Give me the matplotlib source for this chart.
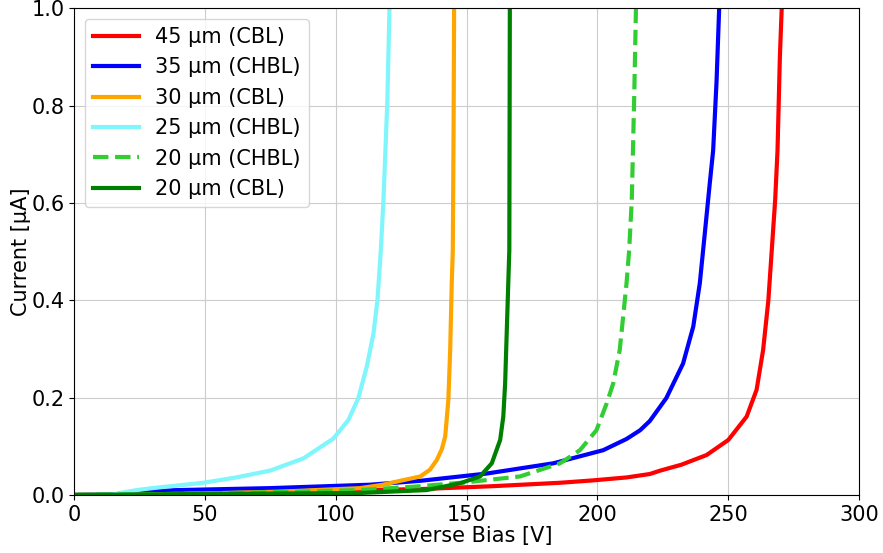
import matplotlib

matplotlib.use("Agg")
import matplotlib.pyplot as plt

# I-V breakdown curves, reverse bias [V] vs leakage current [uA]
V_45_CBL = [0, 20, 50, 100, 132.3, 160, 185.7, 198.5, 211.2, 220, 224, 232, 241.7, 250, 257,
            260.8, 263.3, 265.3, 266.6, 267.9, 268.8, 269.7, 270.4]
I_45_CBL = [0, 0.001, 0.004, 0.009, 0.012, 0.018, 0.025, 0.030, 0.036, 0.043, 0.050, 0.062,
            0.082, 0.113, 0.161, 0.216, 0.298, 0.40, 0.503, 0.606, 0.708, 0.90, 1.0]

V_35_CHBL = [0, 15, 24, 40, 75, 113, 132.3, 157.7, 183.1, 202.2, 211.1, 216.3, 220, 226.3,
             232.7, 236.6, 239.1, 241, 242.9, 244.2, 245.5, 246.5]
I_35_CHBL = [0, 0.001, 0.007, 0.010, 0.014, 0.021, 0.029, 0.044, 0.065, 0.092, 0.115, 0.133,
             0.152, 0.199, 0.27, 0.346, 0.435, 0.537, 0.64, 0.708, 0.85, 1.0]

V_30_CBL = [0, 25, 50, 80, 109.3, 118, 124.6, 132.3, 136, 138.6, 140.5, 141.8, 143, 143.7,
            144.3, 144.7, 145.0, 145.2]
I_30_CBL = [0, 0.001, 0.003, 0.007, 0.014, 0.021, 0.029, 0.038, 0.052, 0.072, 0.094, 0.12,
            0.195, 0.298, 0.435, 0.503, 0.75, 1.0]

V_25_CHBL = [0, 15, 17.6, 24, 30, 49.4, 62, 74.9, 87.6, 99.1, 104.8, 108.6, 111.8, 114.4,
             115.9, 117.2, 118.2, 119.7, 120.5]
I_25_CHBL = [0, 0.001, 0.004, 0.010, 0.014, 0.025, 0.036, 0.050, 0.075, 0.116, 0.154, 0.199,
             0.263, 0.332, 0.40, 0.503, 0.606, 0.811, 1.0]

V_20_CHBL = [0, 25, 50, 80, 109, 130, 150, 170.4, 185.7, 193.3, 199.6, 203.5, 206, 208.5,
             209.8, 211.1, 212.1, 213.1, 214, 214.7]
I_20_CHBL = [0, 0.001, 0.003, 0.006, 0.010, 0.017, 0.026, 0.038, 0.065, 0.092, 0.133, 0.188,
             0.229, 0.298, 0.366, 0.435, 0.503, 0.606, 0.81, 1.0]

V_20_CBL = [0, 25, 50, 80, 109, 134.7, 147.5, 155.1, 159.6, 162.8, 164, 164.7, 165.3, 165.9,
            166.3, 166.4, 166.5]
I_20_CBL = [0, 0.001, 0.002, 0.003, 0.004, 0.010, 0.024, 0.038, 0.065, 0.113, 0.161, 0.229,
            0.332, 0.435, 0.503, 0.75, 1.0]

plt.rcParams["font.size"] = 15

fig, ax = plt.subplots(figsize=(8.83, 5.53), dpi=100)
ax.plot(V_45_CBL, I_45_CBL, color="red", lw=3, label="45 µm (CBL)")
ax.plot(V_35_CHBL, I_35_CHBL, color="blue", lw=3, label="35 µm (CHBL)")
ax.plot(V_30_CBL, I_30_CBL, color="orange", lw=3, label="30 µm (CBL)")
ax.plot(V_25_CHBL, I_25_CHBL, color="#7ff5fc", lw=3, label="25 µm (CHBL)")
ax.plot(V_20_CHBL, I_20_CHBL, color="limegreen", lw=3, ls="--", label="20 µm (CHBL)")
ax.plot(V_20_CBL, I_20_CBL, color="green", lw=3, label="20 µm (CBL)")

ax.set_xlim(0, 300)
ax.set_ylim(0, 1.0)
ax.set_xlabel("Reverse Bias [V]", labelpad=1)
ax.set_ylabel("Current [µA]", labelpad=0)
ax.grid(True, color="#cccccc")
ax.legend(loc="upper left", handlelength=2.2)

fig.subplots_adjust(left=0.084, right=0.973, top=0.985, bottom=0.105)
fig.savefig("out.png")
